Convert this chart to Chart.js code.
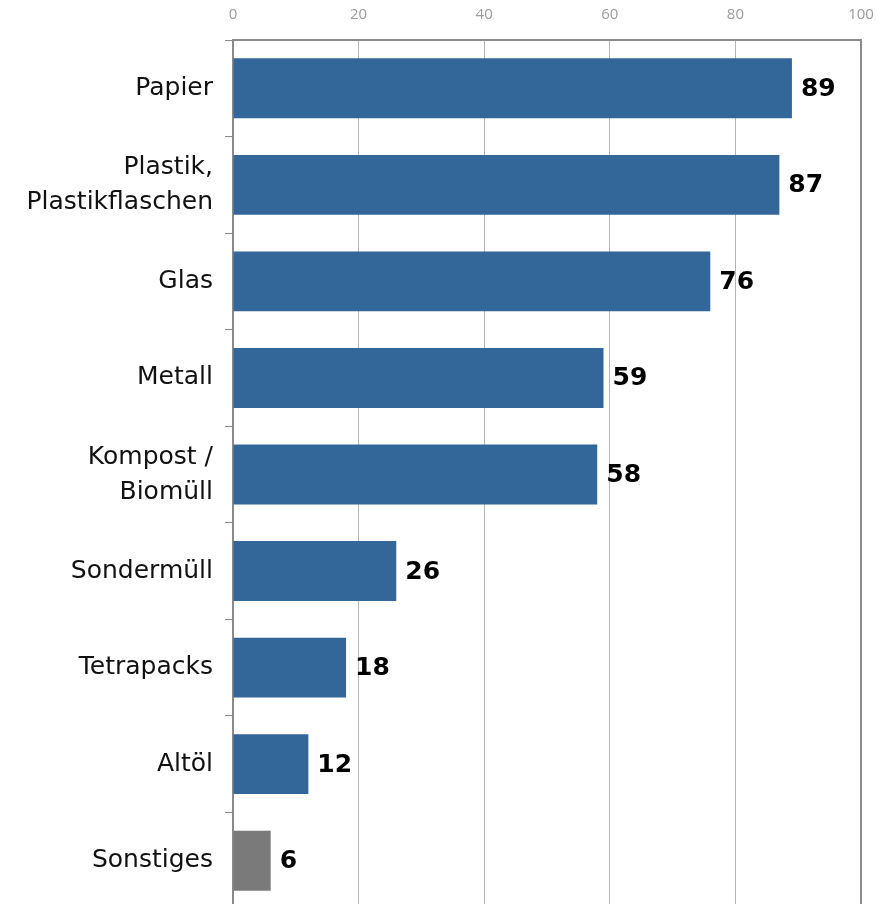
<!DOCTYPE html>
<html lang="de">
<head>
    <meta charset="UTF-8">
    <title>Mülltrennung</title>
    <script src="https://cdn.jsdelivr.net/npm/chart.js"></script>
    <style>
        html, body {
            margin: 0;
            padding: 0;
            overflow: hidden;
            background: #fff;
        }
    </style>
</head>
<body>
    <canvas id="myChart" width="878" height="909"></canvas>
    <script>
        var categories = ['Papier', ['Plastik,', 'Plastikflaschen'], 'Glas', 'Metall', ['Kompost /', 'Biomüll'],
                          'Sondermüll', 'Tetrapacks', 'Altöl', 'Sonstiges'];
        var values = [89, 87, 76, 59, 58, 26, 18, 12, 6];
        var barColors = ['#336699', '#336699', '#336699', '#336699', '#336699',
                         '#336699', '#336699', '#336699', '#7a7a7a'];
        var xTicks = [0, 20, 40, 60, 80, 100];

        // bold numbers right of each bar
        var valueLabels = {
            id: 'valueLabels',
            afterDatasetsDraw: function(chart) {
                var ctx = chart.ctx;
                var meta = chart.getDatasetMeta(0);
                ctx.save();
                ctx.font = 'bold 25px "DejaVu Sans"';
                ctx.fillStyle = '#000';
                ctx.textAlign = 'left';
                ctx.textBaseline = 'middle';
                meta.data.forEach(function(bar, i) {
                    ctx.fillText(values[i], bar.x + 9, bar.y + 1);
                });
                ctx.restore();
            }
        };

        var ctx = document.getElementById('myChart').getContext('2d');
        var myChart = new Chart(ctx, {
            type: 'bar',
            data: {
                labels: categories,
                datasets: [{
                    data: values,
                    backgroundColor: barColors,
                    borderWidth: 0,
                    barPercentage: 0.62,
                    categoryPercentage: 1
                }]
            },
            options: {
                indexAxis: 'y',
                responsive: false,
                animation: false,
                layout: { padding: { left: 0, right: 17, top: 0, bottom: 0 } },
                plugins: {
                    legend: { display: false },
                    tooltip: { enabled: false }
                },
                scales: {
                    x: {
                        position: 'top',
                        min: 0,
                        max: 100,
                        afterFit: function(scale) {
                            scale.height = 40;
                            scale.paddingLeft = 0;
                            scale.paddingRight = 0;
                        },
                        afterBuildTicks: function(scale) {
                            scale.ticks = xTicks.map(function(v) { return { value: v }; });
                        },
                        border: { color: '#8a8a8a', width: 2 },
                        grid: {
                            drawTicks: false,
                            color: function(c) { return c.tick && c.tick.value === 100 ? '#8a8a8a' : '#b4b4b4'; },
                            lineWidth: function(c) { return c.tick && c.tick.value === 100 ? 2 : 1; }
                        },
                        ticks: {
                            padding: 16,
                            color: '#9a9a9a',
                            font: { family: '"Open Sans"', size: 15 }
                        }
                    },
                    y: {
                        afterFit: function(scale) {
                            scale.width = 233;
                            scale.paddingTop = 0;
                            scale.paddingBottom = 0;
                        },
                        border: { color: '#8a8a8a', width: 2 },
                        grid: {
                            drawOnChartArea: false,
                            tickLength: 8,
                            color: '#8a8a8a'
                        },
                        ticks: {
                            padding: 12,
                            color: '#111',
                            font: { family: '"DejaVu Sans"', size: 25, lineHeight: 1.4 }
                        }
                    }
                }
            },
            plugins: [valueLabels]
        });
    </script>
</body>
</html>
